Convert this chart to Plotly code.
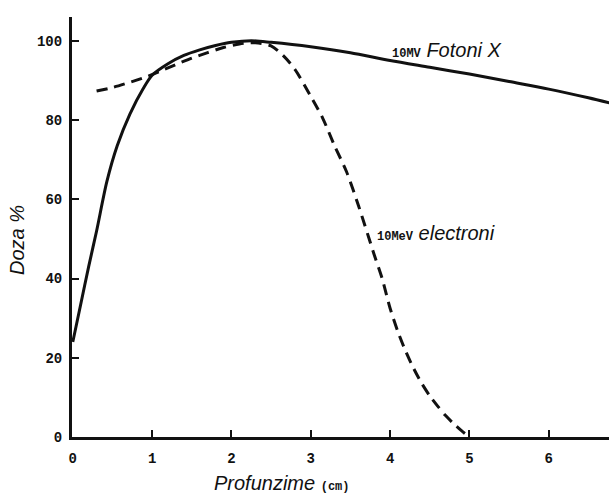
import plotly.graph_objects as go

# Data (depth in cm, dose in %)
photon_depth = [0, 0.1, 0.2, 0.3, 0.43, 0.56, 0.72, 0.89, 1.0, 1.2, 1.4, 1.6, 1.8, 2.0, 2.25,
                2.5, 3.0, 3.5, 4.0, 4.5, 5.0, 5.5, 6.0, 6.5, 6.77]
photon_dose = [24, 33.5, 43, 52, 64.5, 73.5, 81.5, 88, 91.3, 94.2, 96.3, 97.7, 98.8, 99.6, 100,
               99.6, 98.5, 97, 95, 93.3, 91.6, 89.7, 87.8, 85.6, 84.3]

electron_depth = [0.3, 0.5, 0.7, 0.9, 1.1, 1.3, 1.5, 1.7, 1.9, 2.1, 2.3, 2.5, 2.65, 2.8, 3.0,
                  3.15, 3.3, 3.45, 3.6, 3.8, 3.9, 4.0, 4.1, 4.2, 4.3, 4.4, 4.5, 4.6, 4.7, 4.8,
                  4.9, 4.98]
electron_dose = [87.3, 88.2, 89.4, 90.7, 92.3, 94.0, 95.6, 97.0, 98.3, 99.2, 99.5, 98.7, 96.3,
                 92.8, 86, 80.5, 73.5, 67, 58.5, 46, 40, 32.5, 26.5, 21.5, 17.2, 13.5, 10.4,
                 7.8, 5.4, 3.4, 1.6, 0.3]

x_ticks = [0, 1, 2, 3, 4, 5, 6]
y_ticks = [0, 20, 40, 60, 80, 100]

MONO = "Liberation Mono"
SANS = "Liberation Sans"

fig = go.Figure()
fig.add_trace(go.Scatter(x=photon_depth, y=photon_dose, mode="lines",
                         line=dict(color="#111111", width=3, shape="spline", smoothing=0.8),
                         showlegend=False, hoverinfo="skip"))
fig.add_trace(go.Scatter(x=electron_depth, y=electron_dose, mode="lines",
                         line=dict(color="#111111", width=3, dash="11px,7px", shape="spline", smoothing=0.8),
                         showlegend=False, hoverinfo="skip"))

fig.update_layout(
    width=609, height=493,
    margin=dict(l=72, r=0, t=17, b=56, pad=0),
    paper_bgcolor="white", plot_bgcolor="white",
    xaxis=dict(range=[-0.01, 6.76], tickvals=x_ticks, ticktext=[f"<b>{v}</b>" for v in x_ticks],
               ticks="inside", ticklen=7, tickwidth=2, tickcolor="#111111",
               showline=True, linecolor="#111111", linewidth=3,
               showgrid=False, zeroline=False, ticklabelstandoff=6,
               tickfont=dict(family=MONO, size=14, color="#111111")),
    yaxis=dict(range=[0, 106], tickvals=y_ticks, ticktext=[f"<b>{v}</b>" for v in y_ticks],
               ticks="inside", ticklen=7, tickwidth=2, tickcolor="#111111",
               showline=True, linecolor="#111111", linewidth=3,
               showgrid=False, zeroline=False, ticklabelstandoff=4,
               tickfont=dict(family=MONO, size=14, color="#111111")),
    annotations=[
        dict(x=4.0, y=97.7, xref="x", yref="y", xanchor="left", yanchor="middle", showarrow=False,
             text=f"<b><span style='font-family:{MONO};font-size:12px'>10MV</span></b> <i>Fotoni X</i>",
             font=dict(family=SANS, size=20, color="#111111")),
        dict(x=3.81, y=51.5, xref="x", yref="y", xanchor="left", yanchor="middle", showarrow=False,
             text=f"<b><span style='font-family:{MONO};font-size:12px'>10MeV</span></b> <i>electroni</i>",
             font=dict(family=SANS, size=20, color="#111111")),
        dict(x=-0.1024, y=0.469, xref="paper", yref="paper", xanchor="center", yanchor="middle",
             showarrow=False, textangle=-90, text="<i>Doza %</i>",
             font=dict(family=SANS, size=20, color="#111111")),
        dict(x=0.391, y=-0.1095, xref="paper", yref="paper", xanchor="center", yanchor="middle",
             showarrow=False,
             text=f"<i>Profunzime</i> <b><span style='font-family:{MONO};font-size:12px'>(cm)</span></b>",
             font=dict(family=SANS, size=20, color="#111111")),
    ],
)

fig.write_html("out.html")
